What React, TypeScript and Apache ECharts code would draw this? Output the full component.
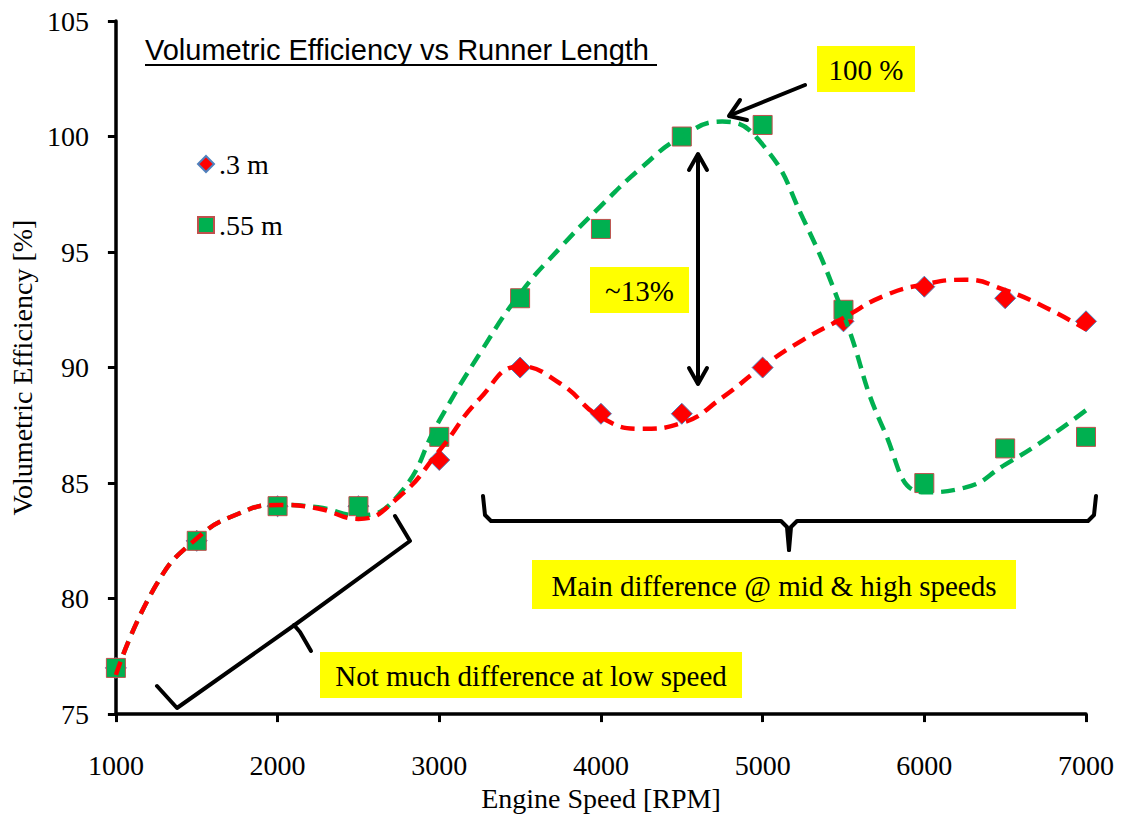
import React, { useEffect, useRef } from "react";
import * as echarts from "echarts";

// Measured data points
const rpm = [1000, 1500, 2000, 2500, 3000, 3500, 4000, 4500, 5000, 5500, 6000, 6500, 7000];
const ve03 = [77, 82.5, 84, 84, 86, 90, 88, 88, 90, 92, 93.5, 93, 92];
const ve055 = [77, 82.5, 84, 84, 87, 93, 96, 100, 100.5, 92.5, 85, 86.5, 87];

// Trend lines
const trendRpm = [1000, 1250, 1500, 1750, 2000, 2250, 2500, 2750, 3000, 3250, 3500, 3750, 4000, 4250, 4500, 4750, 5000, 5250, 5500, 5750, 6000, 6250, 6500, 6750, 7000];
const trend03 = [76.7, 80.6, 82.6, 83.65, 84.05, 83.9, 83.45, 84.4, 86.4, 88.65, 90.05, 89.3, 87.85, 87.35, 87.6, 88.7, 90.05, 91.2, 92.15, 93.1, 93.6, 93.8, 93.35, 92.6, 91.65];
const trend055 = [76.7, 80.6, 82.6, 83.65, 84.05, 83.95, 83.6, 84.5, 87.7, 90.6, 93.2, 95.2, 97.0, 98.65, 100.0, 100.65, 99.65, 96.45, 92.3, 87.3, 84.6, 84.8, 85.8, 86.9, 88.15];

const seriesNames = [".3 m", ".55 m"];
const chartTitle = "Volumetric Efficiency vs Runner Length";
const xName = "Engine Speed [RPM]";
const yName = "Volumetric Efficiency [%]";
const notes = ["100 %", "~13%", "Main difference @ mid & high speeds", "Not much difference at low speed"];

const SERIF = "'Liberation Serif', 'Times New Roman', serif";
const SANS = "'Liberation Sans', Arial, sans-serif";
const YELLOW = "#FFFF00";

const pair = (xs: number[], ys: number[]) => xs.map((x, i) => [x, ys[i]]);

function noteBox(x: number, y: number, w: number, h: number, text: string) {
  return {
    type: "group",
    children: [
      { type: "rect", shape: { x, y, width: w, height: h }, style: { fill: YELLOW }, z: 10 },
      {
        type: "text",
        x: x + w / 2,
        y: y + h / 2 + 1,
        style: { text, font: `29px ${SERIF}`, fill: "#000", align: "center", verticalAlign: "middle" },
        z: 11,
      },
    ],
  };
}

const black = { stroke: "#000", lineWidth: 4, fill: "none", lineJoin: "round", lineCap: "round" };

export default function App() {
  const ref = useRef<HTMLDivElement>(null);
  useEffect(() => {
    if (!ref.current) return;
    const chart = echarts.init(ref.current, null, { renderer: "svg" });
    const legendText = { fontFamily: SERIF, fontSize: 28, color: "#000", lineHeight: 28 };
    chart.setOption({
      animation: false,
      backgroundColor: "#fff",
      grid: { left: 112, right: 36, top: 21, bottom: 98, containLabel: false },
      legend: [
        { data: [seriesNames[0]], left: 197, top: 150, padding: 0, itemWidth: 16, itemHeight: 16, selectedMode: false, textStyle: legendText },
        { data: [seriesNames[1]], left: 197, top: 211, padding: 0, itemWidth: 16, itemHeight: 16, selectedMode: false, textStyle: legendText },
      ],
      xAxis: {
        type: "value",
        min: 1000,
        max: 7000,
        interval: 1000,
        name: xName,
        nameLocation: "middle",
        nameGap: 66,
        nameTextStyle: { fontFamily: SERIF, fontSize: 28, color: "#000" },
        axisLine: { show: true, onZero: false, lineStyle: { color: "#000", width: 3.5 } },
        axisTick: { show: true, inside: false, length: 8, lineStyle: { color: "#000", width: 3 } },
        axisLabel: { fontFamily: SERIF, fontSize: 28, color: "#000", margin: 37, formatter: (v: number) => String(v) },
        splitLine: { show: false },
      },
      yAxis: {
        type: "value",
        min: 75,
        max: 105,
        interval: 5,
        name: yName,
        nameLocation: "middle",
        nameGap: 75,
        nameTextStyle: { fontFamily: SERIF, fontSize: 28, color: "#000" },
        axisLine: { show: true, onZero: false, lineStyle: { color: "#000", width: 3.5 } },
        axisTick: { show: true, inside: false, length: 8, lineStyle: { color: "#000", width: 3 } },
        axisLabel: { fontFamily: SERIF, fontSize: 28, color: "#000", margin: 27, formatter: (v: number) => String(v) },
        splitLine: { show: false },
      },
      series: [
        {
          name: seriesNames[0],
          type: "scatter",
          symbol: "diamond",
          symbolSize: 21,
          data: pair(rpm, ve03),
          itemStyle: { color: "#FF0000", borderColor: "#4F81BD", borderWidth: 1, opacity: 1 },
          z: 2,
        },
        {
          name: seriesNames[1],
          type: "scatter",
          symbol: "rect",
          symbolSize: 19,
          data: pair(rpm, ve055),
          itemStyle: { color: "#00B050", borderColor: "#C0504D", borderWidth: 1, opacity: 1 },
          z: 3,
        },
        {
          name: "trend055",
          type: "line",
          smooth: 0.5,
          showSymbol: false,
          symbol: "none",
          data: pair(trendRpm, trend055),
          lineStyle: { color: "#00B050", width: 4.5, type: [14, 8], cap: "butt" },
          z: 4,
        },
        {
          name: "trend03",
          type: "line",
          smooth: 0.5,
          showSymbol: false,
          symbol: "none",
          data: pair(trendRpm, trend03),
          lineStyle: { color: "#FF0000", width: 4.5, type: [14, 8], cap: "butt" },
          z: 5,
        },
      ],
      graphic: [
        {
          type: "text",
          x: 145,
          y: 50,
          style: { text: chartTitle, font: `29px ${SANS}`, fill: "#000", align: "left", verticalAlign: "middle" },
          z: 10,
        },
        { type: "line", shape: { x1: 145, y1: 65, x2: 657, y2: 65 }, style: { stroke: "#000", lineWidth: 2 }, z: 10 },
        noteBox(817, 46, 98, 46, notes[0]),
        noteBox(590, 267, 99, 46, notes[1]),
        noteBox(532, 560, 484, 49, notes[2]),
        noteBox(320, 652, 422, 46, notes[3]),
        // arrow to 100 %
        { type: "line", shape: { x1: 805, y1: 85, x2: 731, y2: 115 }, style: black, z: 10 },
        { type: "polyline", shape: { points: [[740, 100], [729, 116], [747, 120]] }, style: black, z: 10 },
        // double arrow ~13%
        { type: "line", shape: { x1: 698, y1: 155, x2: 698, y2: 383 }, style: black, z: 10 },
        { type: "polyline", shape: { points: [[689, 170], [698, 154], [707, 170]] }, style: black, z: 10 },
        { type: "polyline", shape: { points: [[689, 368], [698, 384], [707, 368]] }, style: black, z: 10 },
        // horizontal brace
        {
          type: "polyline",
          shape: { points: [[483, 496], [485, 515], [491, 521], [781, 521], [787, 527], [789, 550]] },
          style: black,
          z: 10,
        },
        {
          type: "polyline",
          shape: { points: [[789, 550], [791, 527], [797, 521], [1088, 521], [1094, 515], [1096, 496]] },
          style: black,
          z: 10,
        },
        // rotated brace (low speed)
        {
          type: "polyline",
          shape: { points: [[157, 686], [177, 708], [296, 624], [410, 541], [395, 516]] },
          style: black,
          z: 10,
        },
        {
          type: "polyline",
          shape: { points: [[294, 625], [300, 632], [311, 651]] },
          style: black,
          z: 10,
        },
      ],
    });
    return () => chart.dispose();
  }, []);
  return <div ref={ref} style={{ position: "fixed", left: 0, top: 0, width: 1122, height: 817 }} />;
}
